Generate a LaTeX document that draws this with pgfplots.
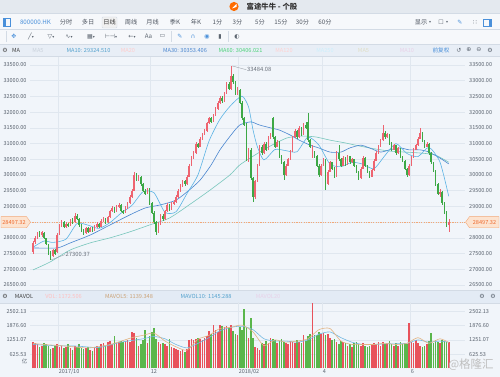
\documentclass[border=0pt]{standalone}
\usepackage{pgfplots}
\pgfplotsset{compat=1.18}
\usepackage{pgfplotstable}
\usepackage{fontspec}
\setmainfont{Noto Sans CJK SC}
\newfontfamily\sym{DejaVu Sans}

\definecolor{pagebg}{HTML}{F1F5FA}
\definecolor{titlebg}{HTML}{E4E9EF}
\definecolor{toolbg}{HTML}{F6F8FB}
\definecolor{linec}{HTML}{D3DBE5}
\definecolor{marowbg}{HTML}{E8EEF6}
\definecolor{volhdrbg}{HTML}{E3EBF5}
\definecolor{gridc}{HTML}{E0E7EF}
\definecolor{tickc}{HTML}{59626E}
\definecolor{tabc}{HTML}{4F5661}
\definecolor{iconc}{HTML}{5C6570}
\definecolor{bluec}{HTML}{4A90DA}
\definecolor{upc}{HTML}{EE6470}
\definecolor{dnc}{HTML}{3DA846}
\definecolor{vup}{HTML}{E8525B}
\definecolor{vdn}{HTML}{5AB64B}
\definecolor{maten}{HTML}{5BB3E4}
\definecolor{mathirty}{HTML}{4A86CF}
\definecolor{masixty}{HTML}{78C6BC}
\definecolor{mavfive}{HTML}{E2B483}
\definecolor{mavten}{HTML}{74B9E2}
\definecolor{lastc}{HTML}{EE6A2E}
\definecolor{lastfill}{HTML}{FCE3D0}
\definecolor{lastline}{HTML}{F3A877}
\definecolor{fade}{HTML}{C9D1DB}
\definecolor{annc}{HTML}{6A717B}

\pgfplotstableread{
i o h l c v
0 27560 27900 27480 27850 1150
1 27880 28050 27820 28000 1100
2 28000 28200 27950 28150 1050
3 28160 28220 28040 28080 950
4 28080 28230 28030 28180 1000
5 28170 28190 27960 27990 1100
6 27980 28000 27760 27790 1050
7 27780 27800 27450 27500 1000
8 27520 27580 27300.37 27400 850
9 27420 27650 27380 27600 900
10 27600 27640 27450 27500 1000
11 27550 28150 27520 28100 1050
12 28120 28450 28080 28400 950
13 28400 28560 28350 28500 1000
14 28500 28540 28300 28350 900
15 28360 28500 28320 28450 950
16 28450 28480 28350 28400 1050
17 28400 28600 28380 28550 900
18 28560 28620 28450 28500 800
19 28500 28800 28480 28700 1000
20 28700 28760 28560 28600 950
21 28600 28620 28360 28400 1050
22 28400 28430 28200 28250 900
23 28250 28290 28100 28150 850
24 28160 28350 28130 28300 900
25 28300 28330 28150 28200 950
26 28200 28350 28180 28300 800
27 28300 28330 28200 28250 750
28 28250 28400 28220 28350 900
29 28350 28500 28320 28450 1000
30 28450 28480 28300 28350 950
31 28360 28600 28340 28550 1050
32 28550 28650 28500 28600 1100
33 28600 28630 28450 28500 1000
34 28500 28700 28480 28650 1150
35 28650 28900 28620 28850 1200
36 28860 29000 28820 28950 1050
37 28950 28980 28800 28850 1400
38 28850 29050 28820 29000 1100
39 29000 29120 28960 29050 1150
40 29050 29080 28820 28850 1200
41 28850 28900 28750 28800 1150
42 28800 29000 28780 28950 1200
43 28950 29150 28920 29100 1250
44 29100 29350 29080 29300 1150
45 29300 29550 29260 29500 1600
46 29500 30100 29480 30000 1550
47 30000 30050 29800 29850 1350
48 29850 30000 29800 29950 1000
49 29950 29980 29650 29700 1050
50 29700 29750 29450 29500 1250
51 29500 29560 29350 29400 1700
52 29400 29600 29380 29550 1100
53 29550 29580 29050 29100 1400
54 29100 29150 28750 28800 1600
55 28800 28850 28450 28500 1750
56 28500 28550 28100 28200 1300
57 28200 28500 28150 28450 1150
58 28450 28750 28420 28700 1050
59 28700 28750 28550 28600 1100
60 28600 28900 28580 28850 1050
61 28850 29100 28820 29050 1000
62 29050 29080 28850 28900 1300
63 28900 29150 28880 29100 950
64 29100 29200 29050 29150 900
65 29150 29350 29120 29300 850
66 29300 29550 29280 29500 800
67 29500 29700 29460 29650 750
68 29650 29850 29620 29800 800
69 29800 29830 29650 29700 700
70 29700 30000 29680 29950 850
71 29950 30350 29930 30300 1250
72 30300 30600 30280 30550 1300
73 30550 30750 30520 30700 1250
74 30700 31050 30680 31000 1300
75 31000 31030 30850 30900 1350
76 30900 31200 30880 31150 1300
77 31150 31350 31120 31300 1250
78 31300 31450 31270 31400 1350
79 31400 31700 31380 31650 1400
80 31650 31850 31620 31800 1650
81 31800 31830 31650 31700 1500
82 31700 31950 31680 31900 1900
83 31900 32150 31870 32100 1700
84 32100 32350 32080 32300 1600
85 32300 32500 32260 32450 1900
86 32450 32500 32300 32350 1850
87 32350 32650 32330 32600 1800
88 32600 32950 32580 32900 1850
89 32900 32950 32700 32750 1750
90 32750 33484.08 32720 33150 1900
91 33150 33200 32900 32950 1650
92 32950 33000 32550 32600 1500
93 32600 32800 32550 32700 1450
94 32700 32750 32250 32300 1800
95 32300 32350 31750 31800 1700
96 31800 31850 31550 31600 2600
97 31600 31650 30450 30500 1800
98 30500 30850 30400 30800 1350
99 30800 30850 29850 29900 2200
100 29900 29950 29130 29300 1350
101 29300 29850 29250 29800 950
102 29800 30350 29780 30300 900
103 30300 30950 30280 30900 800
104 30900 30950 30650 30700 1100
105 30700 31050 30680 31000 1050
106 31000 31050 30750 30800 1200
107 30800 31250 30780 31200 1100
108 31200 31350 31150 31300 1350
109 31800 31850 31150 31200 1300
110 31200 31250 30850 30900 1250
111 30900 31100 30880 31050 1100
112 31050 31080 30550 30600 1200
113 30600 30650 30350 30400 1300
114 30400 30450 29850 30000 1150
115 30000 30350 29980 30300 1100
116 30300 30550 30280 30500 1050
117 30500 30800 30480 30750 1200
118 30750 31250 30730 31200 1150
119 31200 31450 31180 31400 1100
120 31400 31420 31150 31200 1250
121 31200 31550 31180 31500 1150
122 31500 31520 31250 31300 1100
123 31300 31650 31280 31600 1450
124 31600 31700 31450 31500 1200
125 31700 31970 31050 31100 1400
126 31100 31150 30850 30900 1500
127 30600 30950 30550 30700 2850
128 30700 30750 30550 30600 1450
129 30600 30650 30250 30300 1450
130 30300 30350 29950 30000 1600
131 30000 30350 29980 30300 1500
132 30300 30550 30280 30500 1550
133 30500 30520 29520 29700 1450
134 29700 30150 29680 30100 1500
135 30100 30450 30080 30400 1350
136 30400 30420 30150 30200 1250
137 30200 30250 29900 29950 1300
138 29950 30750 29930 30700 1150
139 30700 30950 30450 30500 1050
140 30500 30550 30250 30300 1200
141 30300 30600 30280 30550 1150
142 30550 30580 30300 30350 1100
143 30350 30650 30330 30600 1000
144 30600 30620 30350 30400 1050
145 30400 30550 30380 30500 950
146 30500 30520 30250 30300 1100
147 30300 30330 30050 30100 1150
148 30100 30130 29850 29900 1050
149 29900 30250 29880 30200 1000
150 30200 30600 30180 30550 1100
151 30550 30580 30250 30300 1000
152 30300 30320 30050 30100 950
153 30100 30120 29900 29950 1000
154 29950 30200 29930 30150 1050
155 30150 30500 30130 30450 1100
156 30450 30750 30430 30700 1050
157 30700 30950 30680 30900 1150
158 30900 31150 30880 31100 1000
159 31100 31590 31080 31350 1150
160 31350 31400 31150 31200 1050
161 31200 31350 31180 31300 1100
162 31300 31320 30950 31000 1200
163 31000 31050 30750 30800 1050
164 30800 31000 30780 30950 1000
165 30950 30970 30650 30700 1100
166 30700 30900 30680 30850 1000
167 30850 30870 30550 30600 1150
168 30600 30620 30400 30450 1050
169 30450 30470 30150 30200 1100
170 30200 30220 29950 30000 1050
171 30000 30350 29980 30300 2000
172 30300 30600 30280 30550 1150
173 30550 30850 30530 30800 1100
174 30800 31000 30780 30950 1250
175 30950 31200 30930 31150 1100
176 31150 31500 31130 31350 1000
177 31350 31380 31050 31100 950
178 31100 31120 30850 30900 1000
179 30900 31050 30880 31000 1050
180 31000 31020 30650 30700 1200
181 30700 30720 30350 30400 1550
182 30400 30420 30100 30150 1100
183 30150 30170 29650 29700 1250
184 29700 29750 29350 29400 1150
185 29400 29550 29300 29450 1100
186 29450 29480 29050 29100 1250
187 29100 29150 28750 28800 1200
188 28800 28850 28350 28400 1150
189 28400 28600 28200 28497.32 1172.506
}\candles

\tikzset{
  hd/.style={font=\fontsize{6.2}{7}\selectfont, text=tabc, inner sep=0pt},
  ic/.style={font=\sym\fontsize{6}{7}\selectfont, text=iconc, inner sep=0pt},
  lg/.style={font=\fontsize{5.6}{6.5}\selectfont, inner sep=0pt},
  rlab/.style={font=\fontsize{5.5}{6}\selectfont, text=tickc, anchor=west, inner sep=0pt},
}
\pgfplotsset{
  upbody/.style={draw=none, mark=none,
    restrict expr to domain={\thisrow{c}-\thisrow{o}}{0:100000},
    error bars/.cd, y dir=both, y explicit, error mark=none,
    error bar style={draw=#1, line width=1.5pt}},
  dnbody/.style={draw=none, mark=none,
    restrict expr to domain={\thisrow{c}-\thisrow{o}}{-100000:-0.001},
    error bars/.cd, y dir=both, y explicit, error mark=none,
    error bar style={draw=#1, line width=1.5pt}},
  upwick/.style={draw=none, mark=none,
    restrict expr to domain={\thisrow{c}-\thisrow{o}}{0:100000},
    error bars/.cd, y dir=both, y explicit, error mark=none,
    error bar style={draw=#1, line width=0.45pt}},
  dnwick/.style={draw=none, mark=none,
    restrict expr to domain={\thisrow{c}-\thisrow{o}}{-100000:-0.001},
    error bars/.cd, y dir=both, y explicit, error mark=none,
    error bar style={draw=#1, line width=0.45pt}},
}

\begin{document}
\begin{tikzpicture}[x=1pt,y=1pt]
\useasboundingbox (0,0) rectangle (500,377);
\fill[pagebg] (0,0) rectangle (500,377);
% bars
\fill[titlebg] (0,364) rectangle (500,377);
\fill[toolbg] (0,333) rectangle (500,364);
\draw[linec, line width=0.4pt] (0,363.8) -- (500,363.8);
\draw[linec, line width=0.4pt] (0,348) -- (500,348);
\fill[marowbg] (0,321) rectangle (500,333);
\draw[linec, line width=0.4pt] (0,333) -- (500,333);
\draw[linec, line width=0.4pt] (0,321) -- (500,321);
\fill[volhdrbg] (0,74) rectangle (500,87);
\draw[linec, line width=0.4pt] (0,87) -- (500,87);
\draw[linec, line width=0.4pt] (0,74) -- (500,74);

% title
\fill[orange!85!red] (234,370.5) circle (4.6pt);
\fill[white] (232,368.5) -- (236.5,373) -- (236.5,370) -- cycle;
\node[font=\fontsize{7.4}{8}\selectfont\bfseries, text=black!80, inner sep=0pt] at (272,370.5) {富途牛牛 - 个股};

% toolbar 1
\draw[bluec, line width=0.6pt] (3.5,350.5) rectangle (10,358.5);
\fill[bluec] (3.5,350.5) rectangle (5.5,358.5);
\node[hd, text=bluec] at (35.5,354.5) {800000.HK};
\node[hd] at (66,354.5) {分时};
\node[hd] at (88,354.5) {多日};
\draw[linec, fill=black!6, rounded corners=1pt] (102,349) rectangle (117,360);
\node[hd, text=black!80] at (109.5,354.5) {日线};
\node[hd] at (131,354.5) {周线};
\node[hd] at (152.5,354.5) {月线};
\node[hd] at (175,354.5) {季K};
\node[hd] at (196,354.5) {年K};
\node[hd] at (217.5,354.5) {1分};
\node[hd] at (237.5,354.5) {3分};
\node[hd] at (260,354.5) {5分};
\node[hd] at (281,354.5) {15分};
\node[hd] at (302.5,354.5) {30分};
\node[hd] at (325,354.5) {60分};
\node[hd] at (421,354.5) {显示};
\node[ic, font=\sym\fontsize{4}{5}\selectfont] at (430,354.5) {▾};
\node[ic] at (441,354.5) {☐};
\node[ic, font=\sym\fontsize{4}{5}\selectfont] at (447,354.5) {▾};
\node[ic, text=bluec] at (460,354.5) {✎};
\node[ic] at (475,354.5) {∷};
\draw[bluec, line width=0.6pt] (483,351) rectangle (491,358);
\fill[bluec] (488.5,351) rectangle (491,358);

% toolbar 2
\draw[linec] (6,335) -- (6,346);
\node[ic, text=bluec] at (14,340.5) {✥};
\node[ic] at (31,340.5) {╱{\fontsize{4}{5}\selectfont▾}};
\node[ic] at (51,340.5) {▽{\fontsize{4}{5}\selectfont▾}};
\node[ic] at (69,340.5) {∿{\fontsize{4}{5}\selectfont▾}};
\node[ic] at (91,340.5) {▦{\fontsize{4}{5}\selectfont▾}};
\node[ic] at (111,340.5) {⊢⊣{\fontsize{4}{5}\selectfont▾}};
\node[ic] at (132,340.5) {←{\fontsize{4}{5}\selectfont▾}};
\node[hd, text=iconc] at (148.5,340.5) {Aa};
\node[ic] at (162.5,340.5) {▭};
\draw[linec] (171,335) -- (171,346);
\node[ic, text=bluec] at (180,340.5) {✎};
\node[ic, text=bluec] at (193,340.5) {∩};
\node[ic, text=bluec] at (207,340.5) {◉};
\node[ic] at (220,340.5) {▮};
\draw[linec] (228,335) -- (228,346);
\node[ic] at (237,340.5) {◐};

% MA row
\node[ic, text=black!70] at (5,327) {⚙};
\node[lg, text=black!75] at (16,327) {MA};
\node[lg, text=fade] at (38,327) {MA5};
\node[lg, text=maten!90!black] at (88.5,327) {MA10: 29324.510};
\node[lg, text=red!20] at (128,327) {MA20};
\node[lg, text=mathirty] at (185,327) {MA30: 30353.406};
\node[lg, text=green!50!teal!70] at (240.5,327) {MA60: 30406.021};
\node[lg, text=red!18] at (284,327) {MA120};
\node[lg, text=cyan!20] at (325,327) {MA250};
\node[lg, text=yellow!30!gray!40] at (363.5,327) {MA5};
\node[lg, text=violet!18] at (407,327) {MA10};
\node[lg, text=bluec] at (441,327) {前复权};
\node[ic] at (459,327) {↺};
\node[ic] at (469,327) {⊕};
\node[ic] at (479,327) {⊖};
\node[ic] at (490,327) {⚙};

% volume header
\node[ic, text=black!70] at (5,80.5) {⚙};
\node[lg, text=black!75] at (24,80.5) {MAVOL};
\node[lg, text=red!25] at (63.5,80.5) {VOL: 1172.506};
\node[lg, text=mavfive!90!black] at (129,80.5) {MAVOL5: 1139.348};
\node[lg, text=maten!90!black] at (206,80.5) {MAVOL10: 1145.288};
\node[lg, text=violet!18] at (268,80.5) {MAVOL20};
\node[ic] at (482,80.5) {⚙};
\node[ic] at (493,80.5) {⚙};

% ================= PRICE PANEL =================
\begin{axis}[
  name=price,
  at={(30pt,87pt)}, anchor=south west, scale only axis,
  width=435pt, height=233pt,
  xmin=-1.36, xmax=196.4, ymin=26341, ymax=33755,
  scaled y ticks=false, scaled x ticks=false,
  axis line style={draw=none},
  major tick length=0pt,
  xtick={11.4,53.2,93.2,131.4,171.4}, xticklabels={},
  ytick={26500,27000,...,33500},
  yticklabels={26500.00,27000.00,27500.00,28000.00,{},29000.00,29500.00,30000.00,30500.00,31000.00,31500.00,32000.00,32500.00,33000.00,33500.00},
  yticklabel style={font=\fontsize{5.5}{6}\selectfont, text=tickc},
  grid=major, major grid style={gridc, line width=0.45pt},
  clip=false,
]
% last price line
\addplot[lastline, line width=0.5pt, dash pattern=on 1.2pt off 1.2pt, forget plot] coordinates {(-1.36,28497.32) (196.4,28497.32)};
% moving averages
\addplot[masixty, line width=0.6pt, smooth, tension=0.4] coordinates {
(0,26980)(7.7,27230)(16.8,27610)(26,27840)(35,28000)(44,28190)(53,28410)(62,28630)(71,29050)(80.5,29520)(89.5,30000)(94,30320)(101,30640)(108.6,30950)(115.5,31180)(122,31240)(128.6,31210)(135,31110)(142,31020)(148.6,30920)(155.5,30830)(162.3,30760)(169,30730)(176,30700)(182.7,30640)(189,30406.021)};
\addplot[mathirty, line width=0.6pt, smooth, tension=0.4] coordinates {
(0,27680)(11,27680)(17,27840)(26,28090)(35,28410)(44,28730)(51,28950)(58,29050)(65,29200)(71,29520)(76,29840)(81,30320)(85,30800)(90,31270)(94,31590)(99,31690)(103,31590)(108,31500)(112,31430)(117,31270)(121,31110)(126,30950)(130,30860)(135,30730)(140,30730)(144,30860)(149,30950)(153,30860)(158,30730)(162,30800)(167,30860)(171,30800)(176,30800)(180,30730)(185,30540)(189,30353.406)};
\addplot[maten, line width=0.6pt, smooth, tension=0.4] coordinates {
(0,27700)(5,27900)(9,27854)(15,27959)(20,28455)(25,28405)(30,28300)(35,28485)(40,28785)(45,29035)(50,29465)(55,29435)(60,28815)(65,28830)(70,29410)(75,30005)(80,31075)(85,31775)(90,32220)(95,32510)(98,32165)(100,31445)(102,30900)(105,30480)(110,30810)(115,30775)(120,30740)(125,31205)(130,30950)(135,30350)(140,30265)(145,30405)(150,30345)(155,30200)(160,30620)(165,31000)(170,30685)(175,30585)(180,30880)(185,30415)(189,29324.51)};
% wicks
\addplot[forget plot, upwick=upc]
  table[x=i, y expr={(\thisrow{h}+\thisrow{l})/2}, y error expr={(\thisrow{h}-\thisrow{l})/2}] \candles;
\addplot[forget plot, dnwick=dnc]
  table[x=i, y expr={(\thisrow{h}+\thisrow{l})/2}, y error expr={(\thisrow{h}-\thisrow{l})/2}] \candles;
% bodies
\addplot[forget plot, upbody=upc]
  table[x=i, y expr={(\thisrow{o}+\thisrow{c})/2}, y error expr={max(abs(\thisrow{c}-\thisrow{o})/2,8)}] \candles;
\addplot[forget plot, dnbody=dnc]
  table[x=i, y expr={(\thisrow{o}+\thisrow{c})/2}, y error expr={max(abs(\thisrow{c}-\thisrow{o})/2,8)}] \candles;
% annotations
\draw[annc!70, line width=0.35pt] (axis cs:90.6,33470) -- (axis cs:97,33350);
\node[anchor=west, inner sep=0pt, font=\fontsize{5.8}{6.5}\selectfont, text=annc] at (axis cs:97.3,33345) {33484.08};
\draw[annc!70, line width=0.35pt] (axis cs:8.3,27300) -- (axis cs:14.6,27470);
\node[anchor=west, inner sep=0pt, font=\fontsize{5.8}{6.5}\selectfont, text=annc] at (axis cs:14.8,27475) {27300.37};
\end{axis}

% right price labels (tick values on the right side), positions in pt
\foreach \yy/\t in {92.00/26500.00,107.71/27000.00,123.42/27500.00,139.14/28000.00,170.56/29000.00,186.27/29500.00,201.99/30000.00,217.70/30500.00,233.41/31000.00,249.12/31500.00,264.84/32000.00,280.55/32500.00,296.26/33000.00,311.98/33500.00}{
  \node[rlab] at (469,\yy) {\t};
}

% last price tags
\filldraw[fill=lastfill, draw=lastline, line width=0.4pt] (1,149.2) -- (26.5,149.2) -- (30.5,154.8) -- (26.5,160.4) -- (1,160.4) -- cycle;
\node[font=\fontsize{5.6}{6}\selectfont, text=lastc, inner sep=0pt] at (14,154.8) {28497.32};
\filldraw[fill=lastfill, draw=lastline, line width=0.4pt] (465.5,154.8) -- (469.5,160.4) -- (499,160.4) -- (499,149.2) -- (469.5,149.2) -- cycle;
\node[font=\fontsize{5.6}{6}\selectfont, text=lastc, inner sep=0pt] at (484.5,154.8) {28497.32};

% ================= VOLUME PANEL =================
\begin{axis}[
  name=vol,
  at={(30pt,8.5pt)}, anchor=south west, scale only axis,
  width=435pt, height=66.3pt,
  xmin=-1.36, xmax=196.4, ymin=0, ymax=2900,
  scaled y ticks=false, scaled x ticks=false,
  axis line style={draw=none},
  major tick length=0pt,
  xtick={11.4,53.2,93.2,131.4,171.4},
  xticklabels={2017/10,12,2018/02,4,6},
  xticklabel style={font=\fontsize{5.5}{6}\selectfont, text=tickc, anchor=north west, inner sep=0.6pt},
  ytick={625.53,1251.07,1876.60,2502.13},
  yticklabels={625.53,1251.07,1876.60,2502.13},
  yticklabel style={font=\fontsize{5.5}{6}\selectfont, text=tickc},
  grid=major, major grid style={gridc, line width=0.45pt},
  clip=false,
]
\addplot[ycomb, line width=1.6pt, vup, mark=none, forget plot,
  restrict expr to domain={\thisrow{c}-\thisrow{o}}{0:100000}]
  table[x=i, y=v] \candles;
\addplot[ycomb, line width=1.6pt, vdn, mark=none, forget plot,
  restrict expr to domain={\thisrow{c}-\thisrow{o}}{-100000:-0.001}]
  table[x=i, y=v] \candles;
\addplot[mavten, line width=0.6pt, smooth, tension=0.4] coordinates {
(0,1050)(10,1000)(20,980)(30,920)(40,1150)(50,1300)(55,1400)(60,1300)(65,1050)(70,900)(75,1100)(80,1350)(85,1650)(90,1800)(95,1850)(100,1700)(105,1300)(110,1200)(115,1200)(120,1150)(125,1250)(130,1500)(135,1600)(140,1350)(145,1150)(150,1050)(155,1050)(160,1080)(165,1080)(170,1100)(175,1250)(180,1150)(185,1200)(189,1145.288)};
\addplot[mavfive, line width=0.6pt, smooth, tension=0.4] coordinates {
(0,1100)(5,1050)(15,980)(25,900)(35,1050)(45,1350)(50,1450)(55,1550)(60,1200)(65,950)(70,800)(75,1280)(80,1450)(85,1750)(90,1800)(95,1900)(100,1600)(105,1000)(110,1250)(115,1150)(120,1200)(125,1300)(130,1700)(135,1750)(140,1200)(145,1050)(150,1050)(155,1050)(160,1100)(165,1050)(170,1100)(175,1350)(180,1100)(185,1300)(189,1139.348)};
\end{axis}
\foreach \yy/\t in {22.80/625.53,37.10/1251.07,51.40/1876.60,65.70/2502.13}{
  \node[rlab] at (469,\yy) {\t};
}
\node[font=\fontsize{5.5}{6}\selectfont, text=tickc, anchor=east, inner sep=0pt] at (27.5,16) {亿};

% watermark
\node[font=\fontsize{11.5}{12}\selectfont, text=black!25, inner sep=0pt] at (471,12) {@格隆汇};
\end{tikzpicture}
\end{document}
